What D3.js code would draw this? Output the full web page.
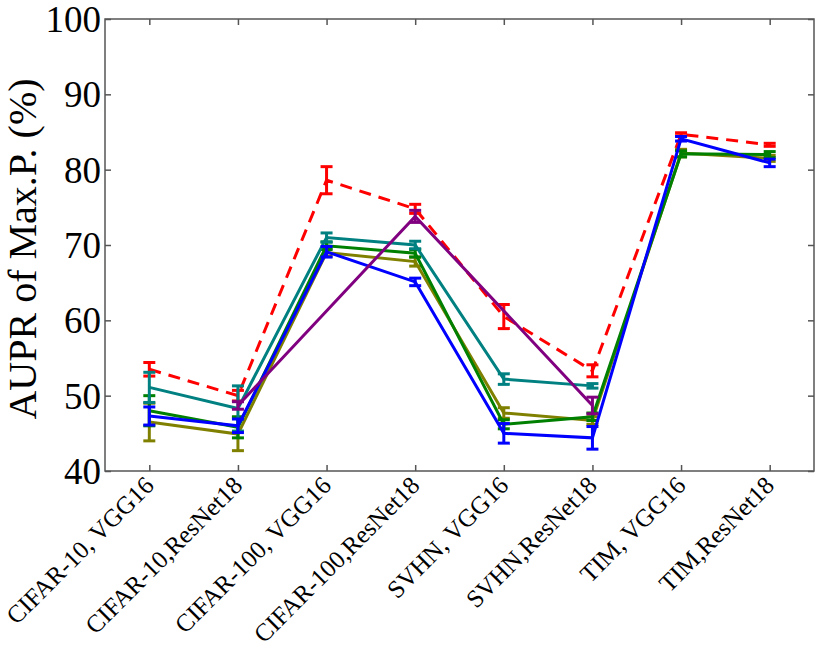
<!DOCTYPE html>
<html>
<head>
<meta charset="utf-8">
<script src="https://cdn.jsdelivr.net/npm/d3@7"></script>
<style>
  body { margin: 0; background: #fff; }
  text { font-family: "Liberation Serif", "DejaVu Serif", serif; fill: #000; }
</style>
</head>
<body>
<svg id="chart" width="830" height="659"></svg>
<script>
// categories along x
const categories = [
  'CIFAR-10, VGG16', 'CIFAR-10,ResNet18', 'CIFAR-100, VGG16', 'CIFAR-100,ResNet18',
  'SVHN, VGG16', 'SVHN,ResNet18', 'TIM, VGG16', 'TIM,ResNet18'
];
const yTicks = [40, 50, 60, 70, 80, 90, 100];

// series values (null = no point), with error half-widths
const redVals    = [53.5, 50.0, 78.6, 74.8, 60.5, 53.3, 84.7, 83.3];
const redErr     = [0.9, 0.7, 1.8, 0.6, 1.6, 0.8, 0.2, 0.2];
const oliveVals  = [46.5, 44.9, 69.0, 67.8, 47.7, 46.7, 82.2, 81.5];
const oliveErr   = [2.5, 2.2, 0.5, 0.6, 0.7, 0.5, 0.5, 0.4];
const greenVals  = [48.0, 45.8, 69.9, 68.9, 46.2, 47.2, 82.1, 82.0];
const greenErr   = [2.0, 1.4, 0.5, 0.5, 0.6, 0.5, 0.4, 0.4];
const tealVals   = [51.1, 48.3, 71.0, 70.0, 52.2, 51.3, null, null];
const tealErr    = [2.0, 3.0, 0.6, 0.5, 0.7, 0.3, null, null];
const blueVals   = [47.3, 46.0, 69.1, 65.1, 45.0, 44.4, 84.1, 80.9];
const blueErr    = [1.2, 0.9, 0.7, 0.5, 1.3, 1.5, 0.3, 0.5];
const purpleVals = [null, 48.7, null, 73.8, null, 48.7, null, null];
const purpleErr  = [null, 0.5, null, 0.8, null, 1.1, null, null];

const series = [
  { color: '#ff0000', vals: redVals, err: redErr, dash: '12,8' },
  { color: '#808000', vals: oliveVals, err: oliveErr },
  { color: '#008000', vals: greenVals, err: greenErr },
  { color: '#008080', vals: tealVals, err: tealErr },
  { color: '#0000ff', vals: blueVals, err: blueErr },
  { color: '#800080', vals: purpleVals, err: purpleErr }
];

const svg = d3.select('#chart');
const mLeft = 105, mRight = 814, mTop = 19, mBottom = 471;

const x = d3.scaleLinear().domain([-0.5, categories.length - 0.5]).range([mLeft, mRight]);
const y = d3.scaleLinear().domain([40, 100]).range([mBottom, mTop]);

// frame
svg.append('rect')
  .attr('x', mLeft).attr('y', mTop)
  .attr('width', mRight - mLeft).attr('height', mBottom - mTop)
  .attr('fill', 'none').attr('stroke', '#555').attr('stroke-width', 1.5);

// axes with inward ticks
const xIdx = d3.range(categories.length);
svg.append('g').attr('transform', `translate(0,${mBottom})`)
  .call(d3.axisTop(x).tickValues(xIdx).tickSize(6).tickFormat(''))
  .call(g => g.select('.domain').remove());
svg.append('g').attr('transform', `translate(0,${mTop})`)
  .call(d3.axisBottom(x).tickValues(xIdx).tickSize(6).tickFormat(''))
  .call(g => g.select('.domain').remove());
svg.append('g').attr('transform', `translate(${mLeft},0)`)
  .call(d3.axisRight(y).tickValues(yTicks).tickSize(6).tickFormat(''))
  .call(g => g.select('.domain').remove());
svg.append('g').attr('transform', `translate(${mRight},0)`)
  .call(d3.axisLeft(y).tickValues(yTicks).tickSize(6).tickFormat(''))
  .call(g => g.select('.domain').remove());
svg.selectAll('.tick line').attr('stroke', '#555').attr('stroke-width', 1.5);

// y tick labels
svg.append('g').selectAll('text').data(yTicks).join('text')
  .attr('x', mLeft - 4).attr('y', d => y(d))
  .attr('dy', '0.35em')
  .attr('text-anchor', 'end')
  .style('font-size', '37px')
  .text(d => d);

// x tick labels, rotated
svg.append('g').selectAll('text').data(categories).join('text')
  .attr('transform', (d, i) => `translate(${x(i) + 6},${mBottom + 16}) rotate(-45)`)
  .attr('text-anchor', 'end')
  .style('font-size', '25px')
  .text(d => d);

// y label
svg.append('text')
  .attr('transform', `translate(36,${(mTop + mBottom) / 2 + 4}) rotate(-90)`)
  .attr('text-anchor', 'middle')
  .style('font-size', '40px')
  .text('AUPR of Max.P. (%)');

// lines and error bars
const line = d3.line().x(d => x(d.i)).y(d => y(d.v));
const capW = 6;

series.forEach(s => {
  const pts = s.vals.map((v, i) => ({ i, v, e: s.err[i] })).filter(d => d.v != null);
  const g = svg.append('g');
  g.append('path')
    .datum(pts)
    .attr('d', line)
    .attr('fill', 'none')
    .attr('stroke', s.color)
    .attr('stroke-width', 3)
    .attr('stroke-dasharray', s.dash || null);
  const eb = g.selectAll('.eb').data(pts).join('g');
  eb.append('line')
    .attr('x1', d => x(d.i)).attr('x2', d => x(d.i))
    .attr('y1', d => y(d.v - d.e)).attr('y2', d => y(d.v + d.e))
    .attr('stroke', s.color).attr('stroke-width', 3);
  [-1, 1].forEach(sign => {
    eb.append('line')
      .attr('x1', d => x(d.i) - capW).attr('x2', d => x(d.i) + capW)
      .attr('y1', d => y(d.v + sign * d.e)).attr('y2', d => y(d.v + sign * d.e))
      .attr('stroke', s.color).attr('stroke-width', 3);
  });
});
</script>
</body>
</html>
